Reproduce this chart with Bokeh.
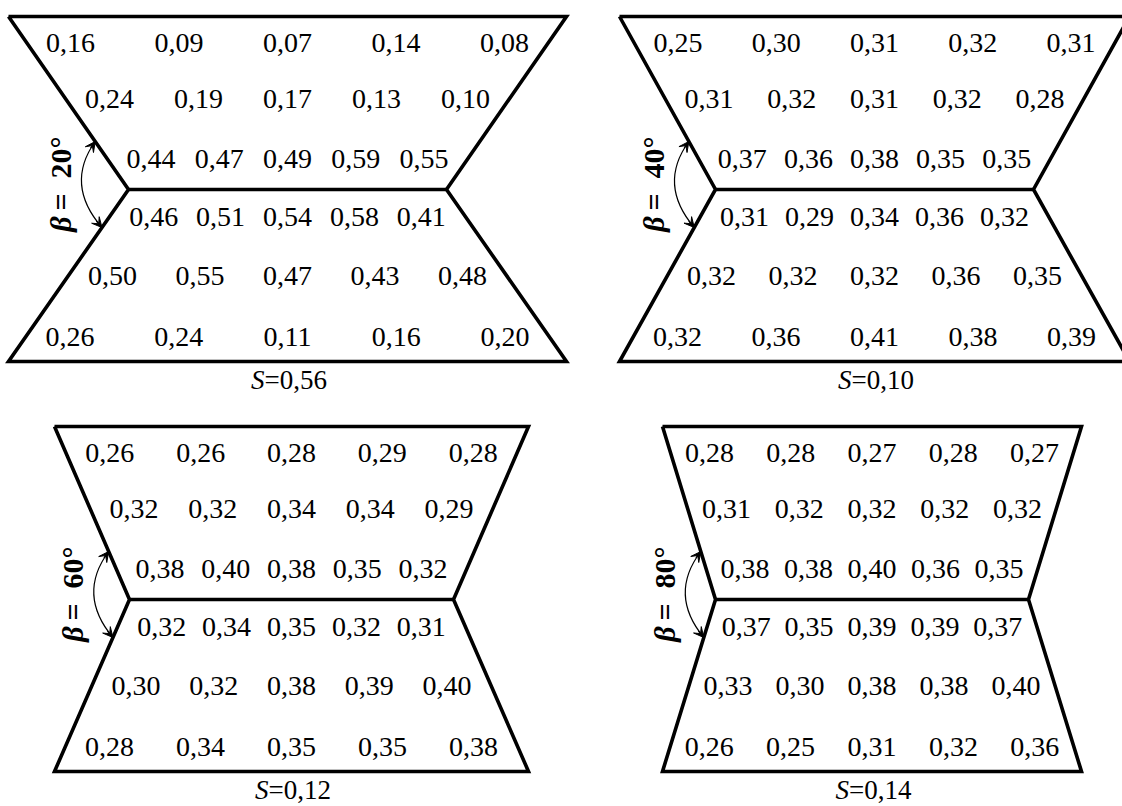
import math
from bokeh.plotting import figure
from bokeh.models import Range1d, Arrow, VeeHead, ColumnDataSource
from bokeh.core.properties import value
from bokeh.embed import file_html
from bokeh.resources import INLINE

# ---------------- data ----------------
betas = ["20°", "40°", "60°", "80°"]
s_values = [0.56, 0.10, 0.12, 0.14]

vals_b20 = [
    [0.16, 0.09, 0.07, 0.14, 0.08],
    [0.24, 0.19, 0.17, 0.13, 0.10],
    [0.44, 0.47, 0.49, 0.59, 0.55],
    [0.46, 0.51, 0.54, 0.58, 0.41],
    [0.50, 0.55, 0.47, 0.43, 0.48],
    [0.26, 0.24, 0.11, 0.16, 0.20],
]
vals_b40 = [
    [0.25, 0.30, 0.31, 0.32, 0.31],
    [0.31, 0.32, 0.31, 0.32, 0.28],
    [0.37, 0.36, 0.38, 0.35, 0.35],
    [0.31, 0.29, 0.34, 0.36, 0.32],
    [0.32, 0.32, 0.32, 0.36, 0.35],
    [0.32, 0.36, 0.41, 0.38, 0.39],
]
vals_b60 = [
    [0.26, 0.26, 0.28, 0.29, 0.28],
    [0.32, 0.32, 0.34, 0.34, 0.29],
    [0.38, 0.40, 0.38, 0.35, 0.32],
    [0.32, 0.34, 0.35, 0.32, 0.31],
    [0.30, 0.32, 0.38, 0.39, 0.40],
    [0.28, 0.34, 0.35, 0.35, 0.38],
]
vals_b80 = [
    [0.28, 0.28, 0.27, 0.28, 0.27],
    [0.31, 0.32, 0.32, 0.32, 0.32],
    [0.38, 0.38, 0.40, 0.36, 0.35],
    [0.37, 0.35, 0.39, 0.39, 0.37],
    [0.33, 0.30, 0.38, 0.38, 0.40],
    [0.26, 0.25, 0.31, 0.32, 0.36],
]
all_vals = [vals_b20, vals_b40, vals_b60, vals_b80]

# ---------------- layout (page pixels) ----------------
layout = [
    dict(cx=287.0, top=16, mid=189, bot=361, hw_out=279.0, hw_mid=159.0, margin=44),
    dict(cx=874.0, top=16, mid=189, bot=361, hw_out=255.0, hw_mid=159.0, margin=44),
    dict(cx=291.0, top=426, mid=599, bot=771, hw_out=237.0, hw_mid=162.0, margin=44),
    dict(cx=871.5, top=426, mid=599, bot=771, hw_out=209.5, hw_mid=156.5, margin=39),
]

W, H = 1122, 806
def Y(py):
    return H - py

def fmt(v):
    return f"{v:.2f}".replace(".", ",")

p = figure(width=W, height=H, x_range=Range1d(0, W), y_range=Range1d(0, H),
           output_backend="svg", toolbar_location=None, min_border=0,
           x_axis_location=None, y_axis_location=None)
p.grid.visible = False
p.outline_line_color = None
p.background_fill_color = "white"
p.border_fill_color = "white"

FONT = value("Liberation Serif")
num = dict(x=[], y=[], t=[])
lab_b = dict(x=[], y=[], t=[])
lab_rest = dict(x=[], y=[], t=[])
s_it = dict(x=[], y=[], t=[])
s_rest = dict(x=[], y=[], t=[])

for g, vals, beta, s in zip(layout, all_vals, betas, s_values):
    cx, top, mid, bot = g["cx"], g["top"], g["mid"], g["bot"]
    ho, hm = g["hw_out"], g["hw_mid"]
    # outline
    xs = [cx - ho, cx + ho, cx + hm, cx + ho, cx - ho, cx - hm, cx - ho]
    ys = [top, top, mid, bot, bot, mid, top]
    p.line(xs, [Y(v) for v in ys], line_width=3.6, line_color="black", line_join="miter")
    p.line([cx - hm, cx + hm], [Y(mid), Y(mid)], line_width=3.6, line_color="black")

    def hw(py):
        if py <= mid:
            return hm + (ho - hm) * (mid - py) / (mid - top)
        return hm + (ho - hm) * (py - mid) / (bot - mid)

    row_y = [top + 26, top + 82, mid - 31, mid + 27, mid + 86, bot - 25]
    for ry, row in zip(row_y, vals):
        outer = hw(ry) - g["margin"]
        for k, v in zip([-1, -0.5, 0, 0.5, 1], row):
            num["x"].append(cx + k * outer)
            num["y"].append(Y(ry))
            num["t"].append(fmt(v))

    # S label
    split = cx - 23
    s_it["x"].append(split); s_it["y"].append(Y(bot + 18)); s_it["t"].append("S")
    s_rest["x"].append(split); s_rest["y"].append(Y(bot + 18)); s_rest["t"].append("=" + fmt(s))

    # angle arc with double arrow
    vx = cx - hm
    slope_up = (ho - hm) / (mid - top)
    slope_dn = (ho - hm) / (bot - mid)
    p0 = (vx - slope_up * 48, mid - 48)
    p2 = (vx - slope_dn * 38, mid + 38)
    mx = (p0[0] + p2[0]) / 2 - 17
    my = (p0[1] + p2[1]) / 2
    c = (2 * mx - 0.5 * (p0[0] + p2[0]), 2 * my - 0.5 * (p0[1] + p2[1]))
    p.quadratic(x0=[p0[0]], y0=[Y(p0[1])], x1=[p2[0]], y1=[Y(p2[1])],
                cx=[c[0]], cy=[Y(c[1])], line_width=1.2, line_color="black")
    for tip in (p0, p2):
        sx = tip[0] + (c[0] - tip[0]) * 0.15
        sy = tip[1] + (c[1] - tip[1]) * 0.15
        p.add_layout(Arrow(end=VeeHead(size=10, fill_color="black", line_color="black", line_width=1),
                           x_start=sx, y_start=Y(sy), x_end=tip[0], y_end=Y(tip[1]),
                           line_width=1.2, line_color="black"))
    lx = mx - 21
    lab_b["x"].append(lx); lab_b["y"].append(Y(mid + 27)); lab_b["t"].append("β")
    lab_rest["x"].append(lx); lab_rest["y"].append(Y(mid + 21)); lab_rest["t"].append("=\u2002" + beta)

p.text(x="x", y="y", text="t", source=ColumnDataSource(num), text_font=FONT,
       text_font_size="28px", text_align="center", text_baseline="middle", text_color="black")
p.text(x="x", y="y", text="t", source=ColumnDataSource(s_it), text_font=FONT,
       text_font_size="27px", text_font_style="italic", text_align="right",
       text_baseline="middle", text_color="black")
p.text(x="x", y="y", text="t", source=ColumnDataSource(s_rest), text_font=FONT,
       text_font_size="27px", text_align="left", text_baseline="middle", text_color="black")
p.text(x="x", y="y", text="t", source=ColumnDataSource(lab_b), text_font=FONT,
       text_font_size="30px", text_font_style="bold italic", text_align="right",
       text_baseline="middle", angle=math.pi / 2, text_color="black")
p.text(x="x", y="y", text="t", source=ColumnDataSource(lab_rest), text_font=FONT,
       text_font_size="30px", text_font_style="bold", text_align="left",
       text_baseline="middle", angle=math.pi / 2, text_color="black")

open("out.html", "w").write(file_html(p, INLINE))
